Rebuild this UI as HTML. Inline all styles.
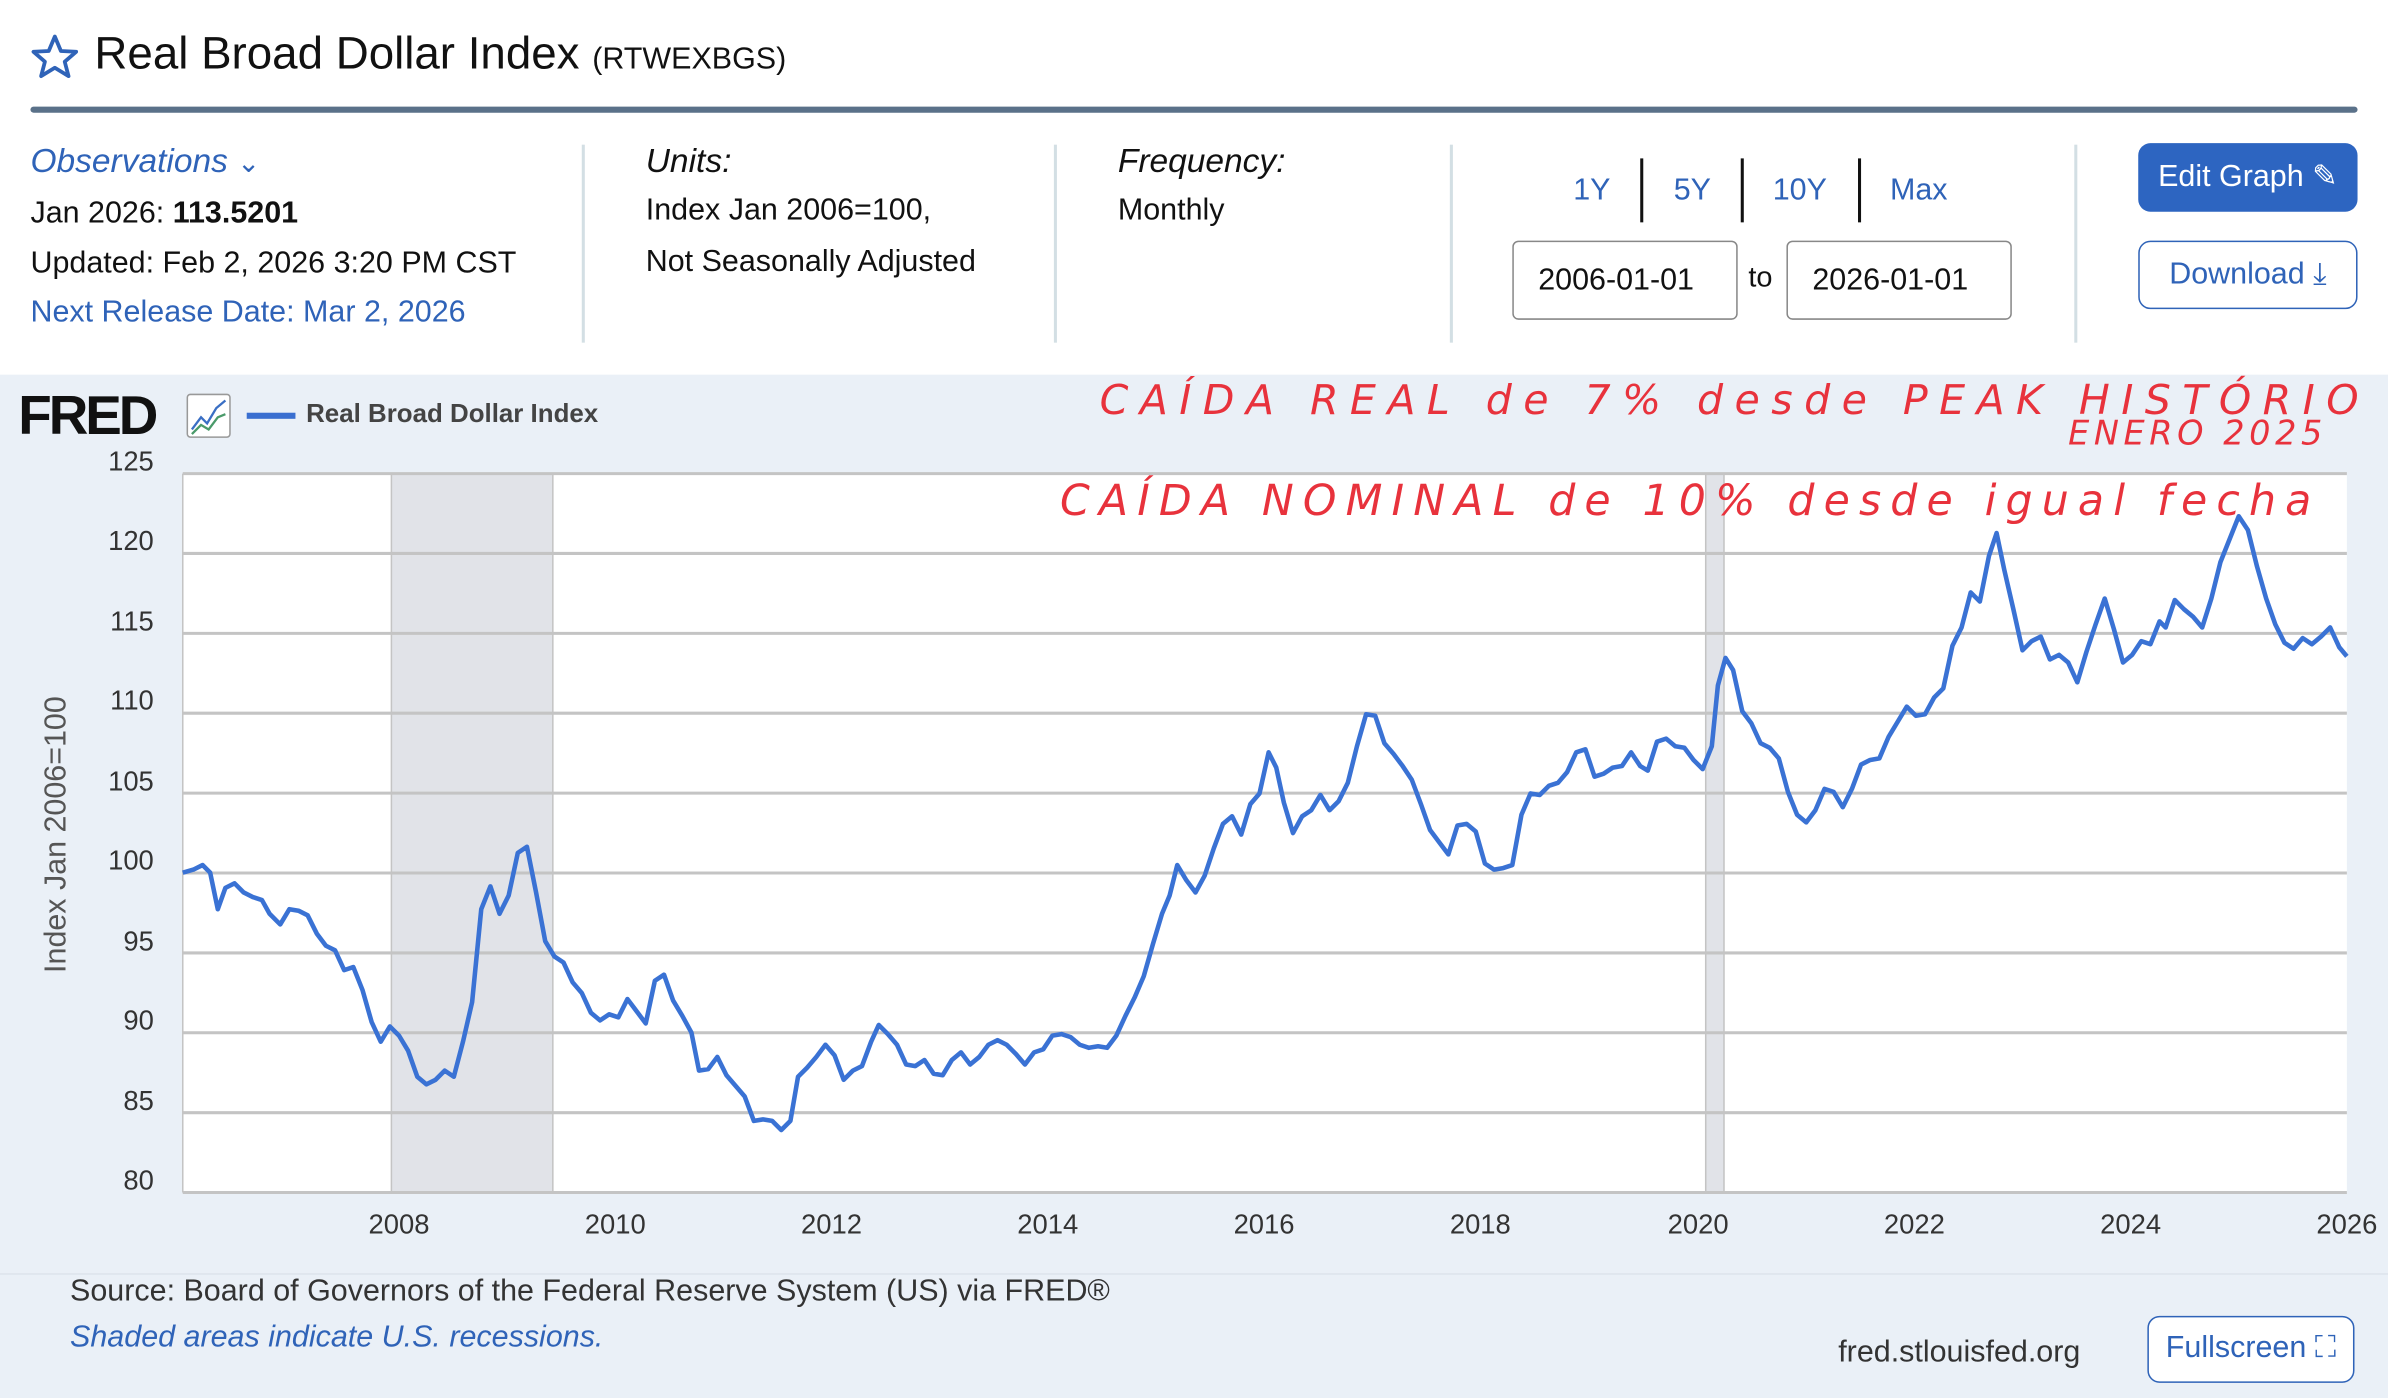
<!DOCTYPE html>
<html><head><meta charset="utf-8"><style>
html,body{margin:0;padding:0;background:#fff;overflow:hidden}
#wrap{position:absolute;left:0;top:0;width:1568px;height:918px;transform:scale(1.52296);transform-origin:0 0;font-family:"Liberation Sans",sans-serif;color:#111}
.a{position:absolute;white-space:nowrap}
.blue{color:#2f63b8}
.vs{position:absolute;width:2px;background:#d3dfe4}
.btn{position:absolute;border-radius:8px;font-size:20px;text-align:center;box-sizing:border-box}
.inp{position:absolute;border:1.5px solid #888;border-radius:4px;width:148px;height:52px;box-sizing:border-box;font-size:20px;line-height:50px;padding-left:16px;color:#111}
.red{position:absolute;color:#e8323c;font-family:"DejaVu Sans",sans-serif;white-space:nowrap;font-style:italic}
</style></head><body><div id="wrap">
<svg class="a" style="left:20px;top:22px" width="32" height="30" viewBox="0 0 32 30"><polygon points="16,2 20,11.5 30,12 22.5,18.5 25,28 16,22.5 7,28 9.5,18.5 2,12 12,11.5" fill="none" stroke="#2f63b8" stroke-width="2.5" stroke-linejoin="round"/></svg>
<div class="a" style="left:62px;top:19px;font-size:30px">Real Broad Dollar Index <span style="font-size:20px">(RTWEXBGS)</span></div>
<div class="a" style="left:20px;top:70px;width:1528px;height:4px;background:#5a7189;border-radius:2px"></div>

<div class="a blue" style="left:20px;top:93px;font-size:22px;font-style:italic">Observations <span style="font-style:normal;font-size:18px">&#8964;</span></div>
<div class="a" style="left:20px;top:129px;font-size:20px">Jan 2026: <b>113.5201</b></div>
<div class="a" style="left:20px;top:162px;font-size:20px">Updated: Feb 2, 2026 3:20 PM CST</div>
<div class="a blue" style="left:20px;top:194px;font-size:20px">Next Release Date: Mar 2, 2026</div>
<div class="vs" style="left:382px;top:95px;height:130px"></div>
<div class="a" style="left:424px;top:93px;font-size:22px;font-style:italic">Units:</div>
<div class="a" style="left:424px;top:127px;font-size:20px">Index Jan 2006=100,</div>
<div class="a" style="left:424px;top:161px;font-size:20px">Not Seasonally Adjusted</div>
<div class="vs" style="left:692px;top:95px;height:130px"></div>
<div class="a" style="left:734px;top:93px;font-size:22px;font-style:italic">Frequency:</div>
<div class="a" style="left:734px;top:127px;font-size:20px">Monthly</div>
<div class="vs" style="left:952px;top:95px;height:130px"></div>
<div class="a blue" style="left:1033px;top:114px;font-size:20px">1Y</div>
<div class="a" style="left:1077px;top:104px;width:1.5px;height:42px;background:#111"></div>
<div class="a blue" style="left:1099px;top:114px;font-size:20px">5Y</div>
<div class="a" style="left:1143px;top:104px;width:1.5px;height:42px;background:#111"></div>
<div class="a blue" style="left:1164px;top:114px;font-size:20px">10Y</div>
<div class="a" style="left:1220px;top:104px;width:1.5px;height:42px;background:#111"></div>
<div class="a blue" style="left:1241px;top:114px;font-size:20px">Max</div>
<div class="inp" style="left:993px;top:158px">2006-01-01</div>
<div class="a" style="left:1148px;top:172px;font-size:19px">to</div>
<div class="inp" style="left:1173px;top:158px">2026-01-01</div>
<div class="vs" style="left:1362px;top:95px;height:130px"></div>
<div class="btn" style="left:1404px;top:94px;width:144px;height:45px;background:#2d65c1;color:#fff;line-height:45px">Edit Graph &#9998;</div>
<div class="btn" style="left:1404px;top:158px;width:144px;height:45px;border:1.5px solid #2f63b8;color:#2f63b8;line-height:42px">Download &#10515;</div>

<div class="a" style="left:0;top:246px;width:1568px;height:672px;background:#eaf0f7"></div>
<div class="a" style="left:12px;top:252px;font-size:36px;font-weight:bold;letter-spacing:-2px;color:#111">FRED</div>
<svg class="a" style="left:122px;top:258px" width="30" height="30"><rect x="1" y="1" width="28" height="28" fill="#fff" stroke="#999" rx="2"/><polyline points="4,24 10,16 14,20 20,10 26,5" fill="none" stroke="#3a6fc4" stroke-width="1.5"/><polyline points="4,27 10,21 15,24 21,16 26,14" fill="none" stroke="#4a9a6a" stroke-width="1.5"/></svg>
<div class="a" style="left:162px;top:271px;width:32px;height:4px;background:#3a6fd0"></div>
<div class="a" style="left:201px;top:262px;font-size:17px;font-weight:bold;color:#444">Real Broad Dollar Index</div>

<svg class="a" style="left:0;top:0" width="1568" height="918">
<rect x="120" y="311" width="1421" height="472" fill="#fff"/>
<rect x="257" y="311" width="106" height="472" fill="#e1e3e8"/>
<rect x="1120" y="311" width="12" height="472" fill="#e1e3e8"/>
<g stroke="#c4c4c4" stroke-width="2">
<line x1="120" y1="311" x2="1541" y2="311"/><line x1="120" y1="363.4" x2="1541" y2="363.4"/><line x1="120" y1="415.9" x2="1541" y2="415.9"/><line x1="120" y1="468.3" x2="1541" y2="468.3"/><line x1="120" y1="520.8" x2="1541" y2="520.8"/><line x1="120" y1="573.2" x2="1541" y2="573.2"/><line x1="120" y1="625.7" x2="1541" y2="625.7"/><line x1="120" y1="678.1" x2="1541" y2="678.1"/><line x1="120" y1="730.6" x2="1541" y2="730.6"/><line x1="120" y1="783" x2="1541" y2="783"/>
<line x1="120" y1="311" x2="120" y2="783" stroke-width="1"/><line x1="257" y1="311" x2="257" y2="783" stroke-width="1"/><line x1="363" y1="311" x2="363" y2="783" stroke-width="1"/><line x1="1120" y1="311" x2="1120" y2="783" stroke-width="1"/><line x1="1132" y1="311" x2="1132" y2="783" stroke-width="1"/>
</g>
<polyline fill="none" stroke="#3a72d4" stroke-width="3" stroke-linejoin="round" points="120,573 127,571 133,568 138,573 143,597 148,583 154,580 160,586 166,589 172,591 177,600 184,607 190,597 196,598 202,601 208,613 214,621 220,624 226,637 232,635 238,650 244,671 250,684 256,674 262,680 268,690 274,707 280,712 286,709 292,703 298,707 304,684 310,658 316,597 322,582 328,600 334,588 340,560 346,556 352,586 358,618 364,628 370,632 376,645 382,652 388,665 394,670 400,666 406,668 412,656 418,664 424,672 430,644 436,640 442,657 448,667 454,678 459,703 465,702 471,694 477,706 483,713 489,720 495,736 501,735 507,736 513,742 519,736 524,707 530,701 536,694 542,686 548,693 554,709 560,703 566,700 572,684 577,673 583,679 589,686 595,699 601,700 607,696 613,705 619,706 625,696 631,691 637,699 643,694 649,686 655,683 661,686 667,692 673,699 679,691 685,689 691,680 697,679 703,681 709,686 715,688 721,687 727,688 733,680 739,667 745,655 751,641 757,620 763,600 768,588 773,568 779,578 785,586 791,575 797,557 803,541 809,536 815,548 821,528 827,521 833,494 838,504 843,527 849,547 855,536 861,532 867,522 873,532 879,526 885,514 891,490 897,469 903,470 909,488 915,495 921,503 927,512 933,528 939,545 945,553 951,561 957,542 963,541 969,546 975,567 981,571 987,570 993,568 999,535 1005,521 1011,522 1017,516 1023,514 1029,507 1035,494 1041,492 1047,510 1053,508 1059,504 1065,503 1071,494 1077,503 1082,506 1088,487 1094,485 1100,490 1106,491 1112,499 1118,505 1124,490 1128,450 1133,432 1138,440 1144,467 1150,475 1156,488 1162,491 1168,498 1174,520 1180,535 1186,540 1192,532 1198,518 1204,520 1210,530 1216,518 1222,502 1228,499 1234,498 1240,484 1246,474 1252,464 1258,470 1264,469 1270,458 1276,452 1282,424 1288,412 1294,389 1300,395 1306,365 1311,350 1316,374 1322,400 1328,427 1334,421 1340,418 1346,433 1352,430 1358,435 1364,448 1370,428 1376,410 1382,393 1388,413 1394,435 1400,430 1406,421 1412,423 1418,408 1422,412 1428,394 1434,400 1440,405 1446,412 1452,393 1458,369 1464,354 1470,339 1476,348 1482,372 1488,393 1494,410 1500,422 1506,426 1512,419 1518,423 1524,418 1530,412 1536,425 1541,431"/>
<g font-family="Liberation Sans, sans-serif" font-size="18" fill="#333" text-anchor="end">
<text x="101" y="309">125</text><text x="101" y="361">120</text><text x="101" y="414">115</text><text x="101" y="466">110</text><text x="101" y="519">105</text><text x="101" y="571">100</text><text x="101" y="624">95</text><text x="101" y="676">90</text><text x="101" y="729">85</text><text x="101" y="781">80</text>
</g>
<g font-family="Liberation Sans, sans-serif" font-size="18" fill="#333" text-anchor="middle">
<text x="262" y="810">2008</text><text x="404" y="810">2010</text><text x="546" y="810">2012</text><text x="688" y="810">2014</text><text x="830" y="810">2016</text><text x="972" y="810">2018</text><text x="1115" y="810">2020</text><text x="1257" y="810">2022</text><text x="1399" y="810">2024</text><text x="1541" y="810">2026</text>
</g>
<text transform="translate(43,548) rotate(-90)" font-family="Liberation Sans, sans-serif" font-size="20" fill="#555" text-anchor="middle">Index Jan 2006=100</text>
</svg>

<div class="red" style="left:722px;top:248px;font-size:27px;letter-spacing:7.5px">CAÍDA REAL de 7% desde PEAK HISTÓRIO</div>
<div class="red" style="left:1358px;top:273px;font-size:22px;letter-spacing:3px">ENERO 2025</div>
<div class="red" style="left:696px;top:312px;font-size:28px;letter-spacing:6px">CAÍDA NOMINAL de 10% desde igual fecha</div>

<div class="a" style="left:0;top:836px;width:1568px;height:1px;background:#dde4ec"></div>
<div class="a" style="left:46px;top:837px;font-size:20px;color:#333">Source: Board of Governors of the Federal Reserve System (US) via FRED®</div>
<div class="a blue" style="left:46px;top:867px;font-size:20px;font-style:italic">Shaded areas indicate U.S. recessions.</div>
<div class="a" style="left:1207px;top:877px;font-size:20px;color:#333">fred.stlouisfed.org</div>
<div class="btn" style="left:1410px;top:864px;width:136px;height:44px;border:1.5px solid #2f63b8;color:#2f63b8;line-height:41px;background:#fff">Fullscreen &#x26F6;</div>
</div></body></html>
